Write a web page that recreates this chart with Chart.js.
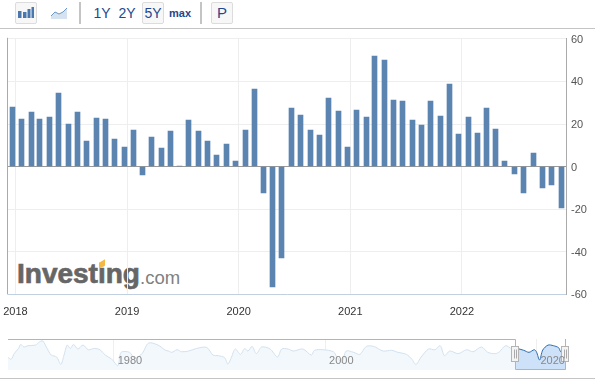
<!DOCTYPE html>
<html>
<head>
<meta charset="utf-8">
<script src="https://cdn.jsdelivr.net/npm/chart.js@4"></script>
<style>
  html, body { margin: 0; padding: 0; background: #fff; }
  body { position: relative; width: 595px; height: 384px; overflow: hidden; font-family: "Liberation Sans", Arial, sans-serif; }
  canvas { position: absolute; }
  #chartmain { left: 0; top: 0; z-index: 2; }
  #chartnav { left: 8px; top: 339px; z-index: 2; }
  .rule { position: absolute; left: 0; width: 595px; height: 1px; background: #c4c4c4; }
  .sep { position: absolute; top: 2px; width: 2px; height: 22px; background: #c4c4c4; }
  .btn { position: absolute; top: 2px; width: 20px; height: 20px; border: 1px solid #dcdcdc; border-radius: 2px; background: #f7f7f7; }
  .lbl { position: absolute; top: 4px; line-height: 18px; color: #23488f; font-size: 14px; text-align: center; }
  #logo { position: absolute; left: 17px; top: 258px; z-index: 1; white-space: nowrap; }
  #logo b { font-size: 28px; color: #666; -webkit-text-stroke: 0.7px #666; }
  #logo span { font-size: 18.5px; color: #808080; position: absolute; left: 123px; top: 9px; }
  #tick { position: absolute; left: 99px; top: 261px; width: 6px; height: 6px; background: #f5b942; transform: skewY(-30deg); z-index: 1; }
</style>
</head>
<body>

<div class="btn" style="left:15px"></div>
<svg style="position:absolute;left:17px;top:6px" width="17" height="13">
  <rect x="1" y="5" width="3.5" height="7" fill="#4a78ad"/>
  <rect x="6" y="6" width="3.5" height="6" fill="#4a78ad"/>
  <rect x="10.5" y="3" width="3" height="9" fill="#4a78ad"/>
  <rect x="14.5" y="1" width="2.5" height="11" fill="#4a78ad"/>
</svg>
<svg style="position:absolute;left:50px;top:6px" width="18" height="14">
  <path d="M1 10 L5 6 L9 8 L13 6 L17 2 L17 13 L1 13 Z" fill="#d5e2ef"/>
  <path d="M1 10 L5 6 L9 8 L13 6 L17 2" fill="none" stroke="#6e97c2"/>
</svg>
<div class="sep" style="left:79px"></div>
<div class="lbl" style="left:92px;width:20px">1Y</div>
<div class="lbl" style="left:117px;width:20px">2Y</div>
<div class="btn" style="left:142px"></div>
<div class="lbl" style="left:143px;width:20px">5Y</div>
<div class="lbl" style="left:168px;width:24px;font-size:11px;font-weight:bold">max</div>
<div class="sep" style="left:200px"></div>
<div class="btn" style="left:211px"></div>
<div class="lbl" style="left:212px;width:20px;font-size:15px">P</div>
<div class="rule" style="top:28px"></div>
<div class="rule" style="top:378px"></div>

<div id="logo"><b>Investing</b><span>.com</span></div>
<div id="tick"></div>

<canvas id="chartmain" width="595" height="384"></canvas>
<canvas id="chartnav" width="564" height="31"></canvas>

<script>
const dates = [
  '2017-12-22', '2018-01-22', '2018-02-22', '2018-03-22', '2018-04-22', '2018-05-22',
  '2018-06-22', '2018-07-22', '2018-08-22', '2018-09-22', '2018-10-22', '2018-11-22',
  '2018-12-22', '2019-01-22', '2019-02-22', '2019-03-22', '2019-04-22', '2019-05-22',
  '2019-06-22', '2019-07-22', '2019-08-22', '2019-09-22', '2019-10-22', '2019-11-22',
  '2019-12-22', '2020-01-22', '2020-02-22', '2020-03-22', '2020-04-22', '2020-05-22',
  '2020-06-22', '2020-07-22', '2020-08-22', '2020-09-22', '2020-10-22', '2020-11-22',
  '2020-12-22', '2021-01-22', '2021-02-22', '2021-03-22', '2021-04-22', '2021-05-22',
  '2021-06-22', '2021-07-22', '2021-08-22', '2021-09-22', '2021-10-22', '2021-11-22',
  '2021-12-22', '2022-01-22', '2022-02-22', '2022-03-22', '2022-04-22', '2022-05-22',
  '2022-06-22', '2022-07-22', '2022-08-22', '2022-09-22', '2022-10-22', '2022-11-22'
];
const values = [
  27.9, 22.3, 25.6, 22.3, 23.2, 34.5, 19.9, 25.6, 11.9, 22.7, 22.3, 12.9,
  9.1, 17.1, -4.1, 13.8, 8.6, 16.6, 0.3, 21.8, 16.6, 11.9, 5.3, 10.5,
  2.5, 17.1, 36.4, -12.2, -56.5, -43, 27.5, 24.2, 17.1, 14.7, 32.2, 26,
  9.1, 26.5, 23.2, 51.9, 50, 31.2, 30.7, 21.8, 19.5, 30.7, 23.7, 38.7,
  15.2, 23.2, 15.7, 27.5, 17.6, 2.5, -3.6, -12.5, 6.3, -10.2, -8.8, -19.6
];
const yearTicks = [2018, 2019, 2020, 2021, 2022];

const navYears = [
  1970.0, 1970.3, 1970.6, 1971.0, 1971.2, 1971.5, 1971.9, 1972.6, 1973.0, 1973.3,
  1973.7, 1974.1, 1974.6, 1975.0, 1975.3, 1975.6, 1975.9, 1976.2, 1976.6, 1977.1,
  1977.6, 1978.2, 1978.7, 1979.2, 1979.8, 1980.4, 1980.7, 1981.5, 1982.0, 1982.7,
  1983.3, 1984.2, 1984.9, 1985.2, 1985.5, 1986.0, 1986.4, 1987.1, 1987.85, 1988.8,
  1989.4, 1989.9, 1990.5, 1990.8, 1991.1, 1991.5, 1992.0, 1992.4, 1992.7, 1993.1,
  1993.5, 1994.0, 1994.8, 1995.5, 1995.9, 1996.5, 1997.0, 1997.9, 1998.7, 1999.0,
  1999.8, 2000.8, 2001.1, 2001.6, 2002.0, 2002.7, 2003.3, 2003.9, 2004.6, 2005.5,
  2006.3, 2006.9, 2007.7, 2008.2, 2008.6, 2009.1, 2009.8, 2010.4, 2010.9, 2011.3,
  2011.8, 2012.6, 2013.4, 2014.0, 2014.8, 2015.4, 2016.1, 2016.5, 2017.1, 2017.7,
  2018.1, 2018.8, 2019.3, 2019.8, 2020.0, 2020.3, 2020.6, 2021.1, 2021.6, 2022.1,
  2022.3, 2022.8
];
const navValues = [
  -37, -50, -9, 25, 53, 35, 44, 48, 71, 76,
  25, -21, -34, -85, -21, 48, 25, 53, 21, 48,
  16, 25, 16, -21, -48, -94, -2, -2, -44, -9,
  62, 48, 12, 7, -2, 16, 2, 7, 25, 32,
  -21, -25, -39, -83, -44, 21, -16, 25, 7, 39,
  -11, 35, 21, -34, 21, 21, 7, 21, -21, 12,
  16, 2, -32, -70, 7, -2, -16, 39, 39, 7,
  12, -2, -16, -48, -85, -34, 21, 16, 44, -25,
  7, -11, 16, 2, 35, -2, -11, 2, 44, 21,
  25, 12, -2, 16, 2, -55, 14, 48, 44, 30,
  2, -20
];
const navLabels = [1980, 2000, 2020];
const navStart = 2018;

// dates are plotted as decimal years so the bars keep their real spacing
function toYear(s) {
  const d = new Date(s + 'T00:00:00Z');
  const y = d.getUTCFullYear();
  return y + (d - Date.UTC(y, 0, 1)) / (Date.UTC(y + 1, 0, 1) - Date.UTC(y, 0, 1));
}

const barPoints = dates.map((d, i) => ({ x: toYear(d), y: values[i] }));
const navPoints = navYears.map((y, i) => ({ x: y, y: navValues[i] }));

// keep the bars on whole pixels
const snapBars = {
  id: 'snapBars',
  afterDatasetsUpdate(chart) {
    chart.getDatasetMeta(0).data.forEach((bar) => {
      bar.x = Math.floor(bar.x) + 0.5;
      bar.y = Math.round(bar.y);
      bar.base = Math.round(bar.base);
    });
  },
};

const leftLine = {
  id: 'leftLine',
  afterDraw(chart) {
    const { ctx, chartArea } = chart;
    ctx.save();
    ctx.strokeStyle = '#aaaaaa';
    ctx.beginPath();
    ctx.moveTo(7.5, chartArea.top - 1);
    ctx.lineTo(7.5, chartArea.bottom);
    ctx.stroke();
    ctx.restore();
  },
};

new Chart(document.getElementById('chartmain').getContext('2d'), {
  type: 'bar',
  data: {
    datasets: [{
      data: barPoints,
      backgroundColor: '#5b84b1',
      barThickness: 5,
    }],
  },
  plugins: [snapBars, leftLine],
  options: {
    responsive: false,
    animation: false,
    layout: { padding: { left: 8, top: 38.8 } },
    plugins: { legend: { display: false }, tooltip: { enabled: false } },
    scales: {
      x: {
        type: 'linear',
        offset: false,
        min: 2017.933,
        max: 2022.933,
        afterBuildTicks(scale) { scale.ticks = yearTicks.map((v) => ({ value: v })); },
        afterFit(scale) {
          scale.height = 89.6;
          // the first label hangs over the left edge, do not let it move the plot
          scale.paddingLeft = 0;
          scale.paddingRight = 0;
        },
        grid: { color: '#eeeeee', drawTicks: false, offset: false },
        border: { color: '#c0d0e0' },
        ticks: {
          autoSkip: false,
          maxRotation: 0,
          padding: 11,
          color: '#333333',
          font: { family: '"Liberation Sans"', size: 11 },
          callback: (v) => String(v),
        },
      },
      y: {
        position: 'right',
        min: -60,
        max: 60,
        afterFit(scale) {
          scale.width = 29;
          scale.paddingTop = 0;
          scale.paddingBottom = 0;
        },
        grid: {
          color: (ctx) => (ctx.tick.value === 0 ? '#999999' : '#eeeeee'),
          drawTicks: false,
        },
        border: { color: '#aaaaaa' },
        ticks: {
          stepSize: 20,
          padding: 5,
          labelOffset: 1,
          color: '#555555',
          font: { family: '"Liberation Sans"', size: 11 },
        },
      },
    },
  },
});

// frame, handles and year labels of the navigator, labels last so they stay on top
const navParts = {
  id: 'navParts',
  afterDraw(chart) {
    const { ctx, scales, chartArea } = chart;
    const sx = Math.round(scales.x.getPixelForValue(navStart)) + 0.5;
    const rx = chartArea.right - 0.5;
    ctx.save();
    ctx.strokeStyle = '#b4b4b4';
    ctx.beginPath();
    ctx.moveTo(0, 0.5);
    ctx.lineTo(sx, 0.5);
    ctx.lineTo(sx, chartArea.bottom - 0.5);
    ctx.lineTo(rx, chartArea.bottom - 0.5);
    ctx.lineTo(rx, 0);
    ctx.stroke();

    [sx, rx].forEach((hx) => {
      ctx.fillStyle = '#f4f4f4';
      ctx.strokeStyle = '#b4b4b4';
      ctx.fillRect(hx - 4, 7.5, 7, 15);
      ctx.strokeRect(hx - 4, 7.5, 7, 15);
      ctx.strokeStyle = '#aaaaaa';
      ctx.beginPath();
      ctx.moveTo(hx - 1, 10.5);
      ctx.lineTo(hx - 1, 19.5);
      ctx.moveTo(hx + 1, 10.5);
      ctx.lineTo(hx + 1, 19.5);
      ctx.stroke();
    });

    ctx.font = '11px "Liberation Sans"';
    ctx.fillStyle = '#888888';
    ctx.textBaseline = 'middle';
    navLabels.forEach((y) => ctx.fillText(String(y), scales.x.getPixelForValue(y) + 4, 22));
    ctx.restore();
  },
};

new Chart(document.getElementById('chartnav').getContext('2d'), {
  type: 'line',
  data: {
    datasets: [
      {
        data: navPoints.filter((p) => p.x <= navStart + 0.1),
        borderColor: '#d2e1ef',
        backgroundColor: '#f3f8fd',
        borderWidth: 1,
        pointRadius: 0,
        tension: 0.3,
        fill: 'start',
      },
      {
        data: navPoints.filter((p) => p.x >= navStart - 0.3),
        borderColor: '#2c6cab',
        backgroundColor: '#cde1f9',
        borderWidth: 1,
        pointRadius: 0,
        tension: 0.3,
        fill: 'start',
      },
    ],
  },
  plugins: [navParts],
  options: {
    responsive: false,
    animation: false,
    layout: { padding: { right: 6 } },
    plugins: { legend: { display: false }, tooltip: { enabled: false } },
    scales: {
      x: {
        type: 'linear',
        min: 1970,
        max: 2022.8,
        afterBuildTicks(scale) { scale.ticks = navLabels.map((v) => ({ value: v })); },
        afterFit(scale) { scale.height = 0; },
        grid: { color: '#efefef', drawTicks: false },
        border: { display: false },
        ticks: { display: false },
      },
      y: {
        min: -124,
        max: 90,
        display: false,
      },
    },
  },
});
</script>
</body>
</html>
